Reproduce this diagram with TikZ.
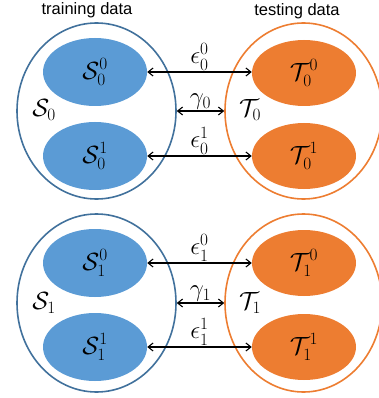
\documentclass[tikz,border=0pt]{standalone}
\usepackage{amsmath,amssymb}
\usepackage{fontspec}
\setsansfont{Liberation Sans}
\usepackage{tikz}
\usetikzlibrary{arrows.meta,shapes.geometric}

\definecolor{srcfill}{RGB}{91,155,213}
\definecolor{srcline}{RGB}{65,113,156}
\definecolor{tgtfill}{RGB}{237,125,49}

\begin{document}
\begin{tikzpicture}[
    x=1pt, y=-1pt,
    every node/.style={font=\fontsize{25}{29}\selectfont},
    link/.style={{Straight Barb[length=5pt,width=8pt]}-{Straight Barb[length=5pt,width=8pt]}, line width=1.1pt},
    srcset/.style={draw=srcline, line width=1.6pt, ellipse, inner sep=0pt, minimum width=159pt, minimum height=176pt},
    tgtset/.style={draw=tgtfill, line width=1.6pt, ellipse, inner sep=0pt, minimum width=157pt, minimum height=176pt},
    srcpart/.style={fill=srcfill, ellipse, inner sep=0pt, minimum width=104pt, minimum height=68pt},
    tgtpart/.style={fill=tgtfill, ellipse, inner sep=0pt, minimum width=104pt, minimum height=66pt},
    head/.style={font=\sffamily\fontsize{16.5}{19}\selectfont}
]
\useasboundingbox (0,0) rectangle (378,398);

\node[head] (trainhead) at (87,10) {training data};
\node[head] (testhead) at (297,11) {testing data};

% first domain pair
\node[srcset] (S0) at (96.5,111) {};
\node[tgtset] (T0) at (303.5,111) {};
\node[srcpart] (S00) at (95,72) {$\mathcal{S}_0^0$};
\node[srcpart] (S01) at (95,156) {$\mathcal{S}_0^1$};
\node[tgtpart] (T00) at (304,73) {$\mathcal{T}_0^0$};
\node[tgtpart] (T01) at (304,156) {$\mathcal{T}_0^1$};
\node (S0lab) at (44,110) {$\mathcal{S}_0$};
\node (T0lab) at (250,110) {$\mathcal{T}_0$};

\draw[link] (S00.east) -- node[midway, above=-2pt] {$\epsilon_0^0$} (T00.west |- S00.east);
\draw[link] (S0.east) -- node[midway, above=-2pt] {$\gamma_0$} (T0.west);
\draw[link] (S01.east) -- node[midway, above=-2pt] {$\epsilon_0^1$} (T01.west |- S01.east);

% second domain pair
\node[srcset, minimum height=178pt] (S1) at (96.5,303) {};
\node[tgtset, minimum height=178pt] (T1) at (303.5,303) {};
\node[srcpart] (S10) at (95,263) {$\mathcal{S}_1^0$};
\node[srcpart] (S11) at (95,347) {$\mathcal{S}_1^1$};
\node[tgtpart] (T10) at (304,263) {$\mathcal{T}_1^0$};
\node[tgtpart] (T11) at (304,347) {$\mathcal{T}_1^1$};
\node (S1lab) at (44,303) {$\mathcal{S}_1$};
\node (T1lab) at (250,303) {$\mathcal{T}_1$};

\draw[link] (S10.east) -- node[midway, above=-2pt] {$\epsilon_1^0$} (T10.west |- S10.east);
\draw[link] (S1.east) -- node[midway, above=-2pt] {$\gamma_1$} (T1.west);
\draw[link] (S11.east) -- node[midway, above=-2pt] {$\epsilon_1^1$} (T11.west |- S11.east);
\end{tikzpicture}
\end{document}
